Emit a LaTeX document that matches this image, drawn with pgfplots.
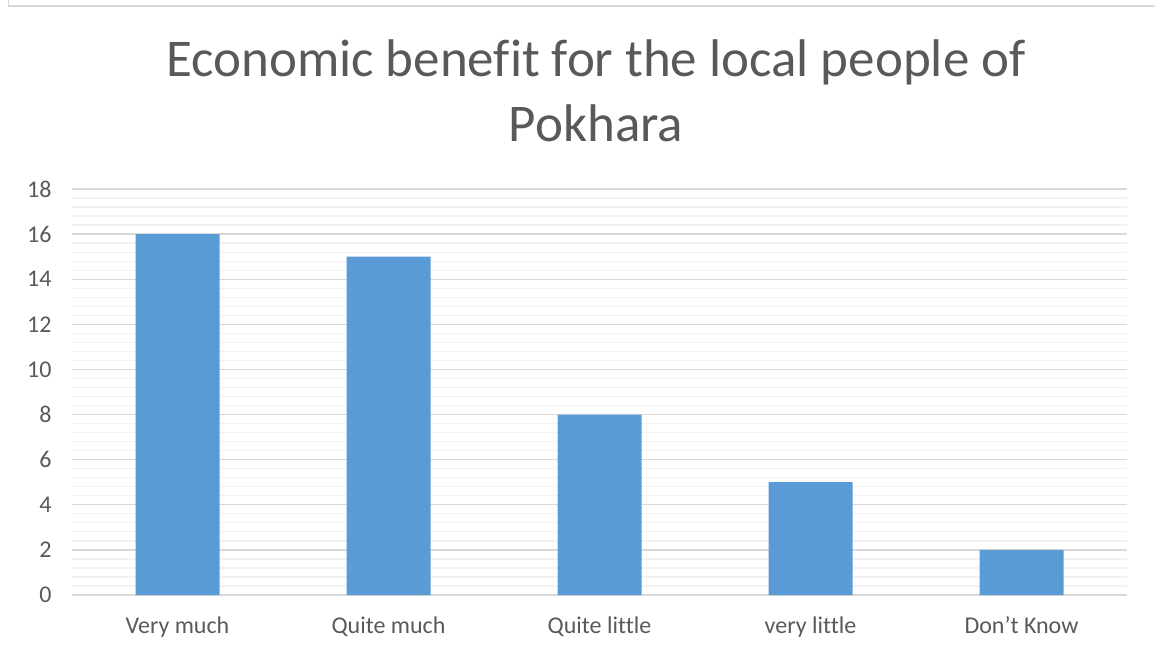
\documentclass[border=0pt]{standalone}
\usepackage{fontspec}
\setmainfont{Carlito}[Ligatures=NoCommon]
\usepackage{pgfplots}
\pgfplotsset{compat=1.18}
\definecolor{barblue}{HTML}{5B9BD5}
\definecolor{txt}{HTML}{595959}
\definecolor{gridmaj}{HTML}{D9D9D9}
\definecolor{gridmin}{HTML}{F2F2F2}
\begin{document}
\begin{tikzpicture}[x=1pt,y=1pt]
\path[use as bounding box] (0,0) rectangle (1155,653);
\draw[gridmaj,line width=1.5pt] (8.5,653) -- (8.5,647) -- (1155,647);
\node[txt,font=\fontsize{53}{65}\selectfont,align=center,anchor=base] at (596,511) {Economic benefit for the local people of\\Pokhara};
\begin{axis}[
  at={(72pt,58pt)}, anchor=south west,
  scale only axis, width=1055pt, height=406pt,
  xmin=-0.5, xmax=4.5, ymin=0, ymax=18,
  xtick=data,
  xticklabels={Very much,Quite much,Quite little,very little,Don’t Know},
  ytick={0,2,...,18},
  minor y tick num=4,
  ymajorgrids, yminorgrids,
  major grid style={gridmaj,line width=1.3pt},
  minor grid style={gridmin,line width=1.3pt},
  axis x line*=bottom,
  axis y line*=left,
  x axis line style={gridmaj,line width=1.5pt,-},
  y axis line style={draw=none},
  major tick length=0pt, minor tick length=0pt,
  tick style={draw=none},
  ticklabel style={font=\fontsize{24}{26}\selectfont, text=txt},
  /pgf/number format/assume math mode=true,
  yticklabel style={xshift=-17pt},
  xticklabel style={yshift=-18pt},
  enlargelimits=false,
  clip=false,
]
\addplot[ybar, bar width=84pt, fill=barblue, draw=none] coordinates {(0,16) (1,15) (2,8) (3,5) (4,2)};
\end{axis}
\end{tikzpicture}
\end{document}
